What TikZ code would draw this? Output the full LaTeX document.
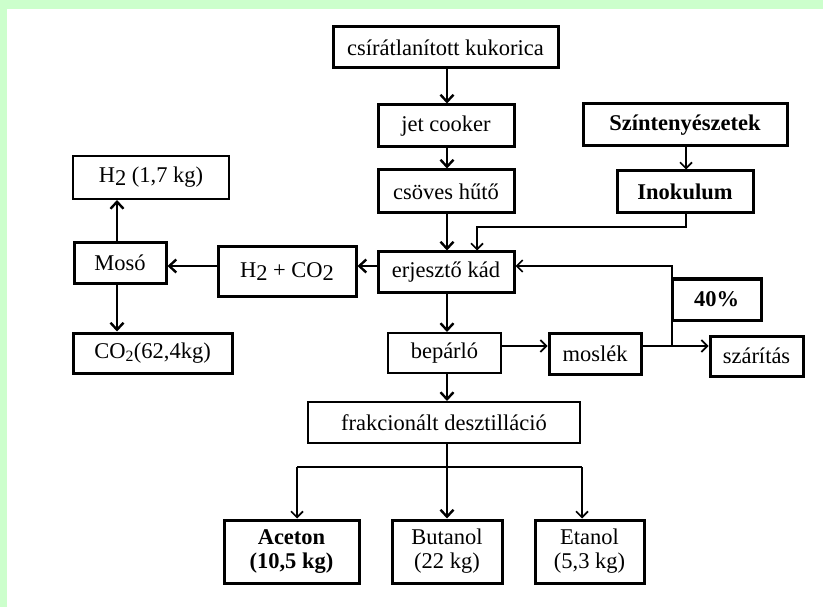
\documentclass[tikz,border=0pt]{standalone}
\usepackage{fontspec}
\setmainfont{Liberation Serif}
\usetikzlibrary{arrows.meta}
\definecolor{bandgreen}{RGB}{204,255,204}
\begin{document}
\begin{tikzpicture}[x=1pt,y=-1pt,
  box/.style={draw=black,line width=3pt,fill=white,inner sep=0pt,align=center,font=\fontsize{22.5}{24}\selectfont},
  tbox/.style={box,line width=2pt},
  bbox/.style={box,font=\fontsize{22.5}{24}\selectfont\bfseries},
  thickarr/.style={line width=2.8pt,-{Straight Barb[length=7pt,width=13pt,line width=2.4pt]}},
  thinarr/.style={line width=1.5pt,-{Straight Barb[length=6pt,width=12pt,line width=1.7pt]}},
  thinline/.style={line width=1.5pt}]
\useasboundingbox (0,0) rectangle (823,607);
\fill[white] (0,0) rectangle (823,607);
\fill[bandgreen] (0,0) rectangle (823,8.7);
\fill[bandgreen] (0,0) rectangle (7,607);

\node[box,minimum width=225pt,minimum height=41pt] (kuk) at (445.5,47.5) {csírátlanított kukorica};
\node[box,minimum width=136pt,minimum height=42pt] (jet) at (446,126) {jet cooker};
\node[box,minimum width=136pt,minimum height=43pt] (cso) at (446,191.5) {csöves hűtő};
\node[box,minimum width=136pt,minimum height=40pt] (erj) at (446,272) {erjesztő kád};
\node[bbox,minimum width=204pt,minimum height=42pt] (szin) at (685,125) {Színtenyészetek};
\node[bbox,minimum width=136pt,minimum height=42pt] (inok) at (685,192) {Inokulum};
\node[tbox,minimum width=156pt,minimum height=43pt] (h2) at (151,177.5) {H\raisebox{-0.25ex}{2} (1,7 kg)};
\node[box,minimum width=92pt,minimum height=40pt] (moso) at (120,263) {Mosó};
\node[box,minimum width=138pt,minimum height=49pt] (h2co2) at (287,271.5) {H\raisebox{-0.25ex}{2} + CO\raisebox{-0.25ex}{2}};
\node[box,minimum width=159pt,minimum height=40pt] (co2) at (152.5,353) {CO\textsubscript{2}(62,4kg)};
\node[tbox,minimum width=113pt,minimum height=40pt] (bep) at (444.5,353) {bepárló};
\node[box,minimum width=92pt,minimum height=41pt] (mos) at (595,353.5) {moslék};
\node[bbox,minimum width=89pt,minimum height=41pt] (p40) at (716.5,299.5) {40\%};
\node[box,minimum width=93pt,minimum height=40pt] (szar) at (756.5,356) {szárítás};
\node[tbox,minimum width=272pt,minimum height=41pt] (frak) at (444,422.5) {frakcionált desztilláció};
\node[bbox,minimum width=135pt,minimum height=63pt] (ace) at (291.5,551.5) {Aceton\\(10,5 kg)};
\node[box,minimum width=110pt,minimum height=63pt] (but) at (447,551.5) {Butanol\\(22 kg)};
\node[box,minimum width=109pt,minimum height=63pt] (eta) at (589.5,551.5) {Etanol\\(5,3 kg)};

% main column
\draw[thickarr] (kuk.south -| 447,0) -- (jet.north -| 447,0);
\draw[thickarr] (jet.south -| 447,0) -- (cso.north -| 447,0);
\draw[thickarr] (cso.south -| 447,0) -- (erj.north -| 447,0);
\draw[thickarr] (erj.south -| 447,0) -- (bep.north -| 447,0);
\draw[thickarr] (bep.south -| 447,0) -- (frak.north -| 447,0);
\draw[thickarr] (frak.south -| 447,0) -- (but.north -| 447,0);

% inoculum
\draw[thinarr] (szin.south -| 686,0) -- (inok.north -| 686,0);
\coordinate (ic1) at (686,227);
\coordinate (ic2) at (477,227);
\draw[thinarr] (inok.south -| ic1) -- (ic1) -- (ic2) -- (erj.north -| ic2);

% gases
\draw[thickarr] (erj.west |- 0,266) -- (h2co2.east |- 0,266);
\draw[thickarr] (h2co2.west |- 0,266) -- (moso.east |- 0,266);
\draw[thickarr] (moso.north -| 117,0) -- (h2.south -| 117,0);
\draw[thickarr] (moso.south -| 117,0) -- (co2.north -| 117,0);

% moslék
\draw[thinarr] (bep.east |- 0,346) -- (mos.west |- 0,346);
\coordinate (jn) at (672,346);
\coordinate (jt) at (672,266);
\draw[thinarr] (mos.east |- jn) -- (szar.west |- jn);
\draw[thinarr] (jn) -- (jt) -- (erj.east |- jt);

% distillation products
\coordinate (bl) at (297,467);
\coordinate (br) at (582,467);
\draw[thinline] (bl) -- (br);
\draw[thinarr] (bl) -- (ace.north -| bl);
\draw[thinarr] (br) -- (eta.north -| br);
\end{tikzpicture}
\end{document}
